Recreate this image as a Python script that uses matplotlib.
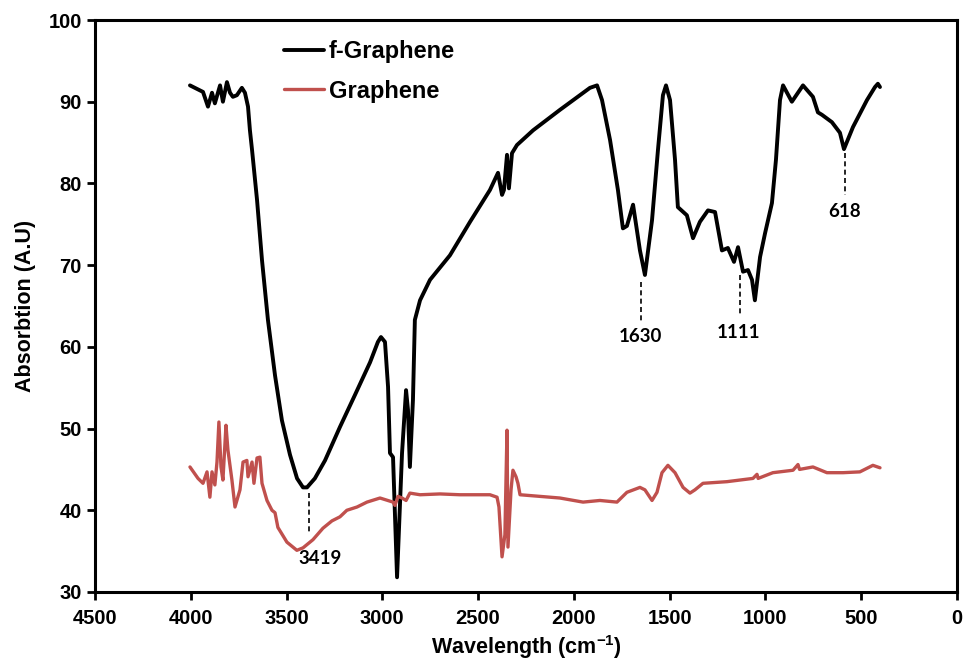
import numpy as np
import matplotlib.pyplot as plt

plt.rcParams['font.family'] = ['Liberation Sans', 'DejaVu Sans']
plt.rcParams['font.weight'] = 'bold'
plt.rcParams['mathtext.fontset'] = 'custom'
plt.rcParams['mathtext.rm'] = 'Liberation Sans:bold'
plt.rcParams['mathtext.default'] = 'rm'

# f-Graphene spectrum (wavenumber, absorption)
fg_x = [4004, 3936, 3910, 3889, 3874, 3847, 3832, 3811, 3795, 3780, 3759, 3733, 3717, 3701,
        3691, 3680, 3654, 3628, 3597, 3560, 3524, 3482, 3445, 3414, 3393, 3352, 3299, 3221,
        3143, 3064, 3023, 3007, 2986, 2970, 2960, 2944, 2923, 2897, 2876, 2866, 2856, 2840,
        2830, 2803, 2751, 2647, 2542, 2438, 2396, 2375, 2365, 2349, 2339, 2323, 2297, 2255,
        2213, 2073, 1916, 1879, 1853, 1811, 1770, 1744, 1723, 1691, 1655, 1629, 1592, 1561,
        1535, 1519, 1498, 1472, 1457, 1410, 1378, 1342, 1300, 1263, 1227, 1196, 1164, 1143,
        1117, 1091, 1070, 1055, 1028, 1002, 966, 945, 924, 908, 862, 804, 752, 726, 705, 653,
        611, 590, 543, 470, 428, 413, 402]
fg_y = [92.0, 91.2, 89.4, 91.1, 89.8, 92.0, 90.0, 92.4, 91.1, 90.6, 90.8, 91.7, 91.1, 89.4,
        86.5, 84.1, 78.0, 70.6, 63.3, 56.5, 51.0, 46.8, 43.9, 42.8, 42.8, 43.9, 46.1, 50.2,
        54.1, 58.1, 60.6, 61.2, 60.6, 55.1, 47.0, 46.5, 31.8, 47.0, 54.7, 52.3, 45.3, 53.5,
        63.3, 65.7, 68.2, 71.2, 75.3, 79.2, 81.3, 78.6, 79.2, 83.5, 79.4, 83.7, 84.7, 85.6,
        86.5, 89.0, 91.7, 92.0, 90.2, 85.3, 79.2, 74.5, 74.8, 77.4, 71.8, 68.8, 75.5, 84.1,
        90.8, 92.0, 90.2, 82.9, 77.1, 76.1, 73.3, 75.3, 76.7, 76.5, 71.8, 72.1, 70.4, 72.2,
        69.2, 69.4, 68.2, 65.7, 71.0, 73.9, 77.6, 82.9, 90.2, 92.0, 90.0, 92.0, 90.6, 88.7,
        88.4, 87.5, 86.2, 84.2, 86.9, 90.2, 91.8, 92.2, 91.8]

# Graphene spectrum
g_x = [4004, 3962, 3936, 3915, 3900, 3889, 3874, 3863, 3853, 3842, 3832, 3816, 3806, 3785,
       3769, 3743, 3727, 3707, 3701, 3680, 3670, 3654, 3639, 3628, 3602, 3576, 3560, 3545,
       3498, 3446, 3414, 3362, 3310, 3263, 3221, 3185, 3132, 3080, 3012, 2944, 2934, 2918,
       2897, 2876, 2856, 2803, 2699, 2595, 2438, 2401, 2391, 2375, 2360, 2349, 2344, 2328,
       2318, 2302, 2292, 2281, 2177, 2073, 1952, 1864, 1775, 1723, 1655, 1629, 1592, 1566,
       1540, 1509, 1472, 1430, 1394, 1368, 1326, 1201, 1065, 1044, 1038, 961, 856, 830, 822,
       752, 679, 595, 507, 439, 402]
g_y = [45.3, 43.9, 43.3, 44.7, 41.6, 44.7, 43.1, 45.9, 50.8, 45.3, 43.7, 50.4, 47.4, 43.7,
       40.4, 42.5, 45.9, 46.1, 44.1, 45.9, 43.3, 46.4, 46.5, 43.3, 41.2, 40.0, 39.7, 37.9,
       36.1, 35.1, 35.4, 36.4, 37.8, 38.7, 39.2, 40.0, 40.4, 41.0, 41.5, 41.0, 40.6, 41.7,
       41.5, 41.2, 42.1, 41.9, 42.0, 41.9, 41.9, 41.6, 40.4, 34.3, 37.0, 49.8, 35.5, 42.5,
       44.9, 44.1, 43.3, 41.9, 41.7, 41.5, 41.0, 41.2, 41.0, 42.2, 42.8, 42.5, 41.2, 42.2,
       44.6, 45.5, 44.6, 42.8, 42.1, 42.5, 43.3, 43.5, 43.9, 44.4, 43.9, 44.6, 44.9, 45.6,
       45.0, 45.3, 44.6, 44.6, 44.7, 45.5, 45.2]

# peak annotations: label, dashed line x, line top, line bottom, text position
peak_labels = ['3419', '1630', '1111', '618']
peak_x = [3383, 1650, 1133, 585]
peak_top = [42.1, 67.9, 68.8, 83.7]
peak_bottom = [37.2, 63.0, 63.9, 78.6]
label_x = [3325, 1655, 1143, 585]
label_y = [34.1, 61.3, 61.8, 76.6]

fig = plt.figure(figsize=(9.65, 6.65), dpi=100)
ax = fig.add_axes([0.0984, 0.1098, 0.8933, 0.8601])

ax.plot(fg_x, fg_y, color='black', lw=2.8, label='f-Graphene',
        solid_joinstyle='round', solid_capstyle='round')
ax.plot(g_x, g_y, color='#C0504D', lw=2.4, label='Graphene',
        solid_joinstyle='round', solid_capstyle='round')

for lab, px, yt, yb, tx, ty in zip(peak_labels, peak_x, peak_top, peak_bottom, label_x, label_y):
    ax.plot([px, px], [yt, yb], color='black', lw=1.2, ls=(0, (3, 2)))
    ax.text(tx, ty, lab, ha='center', va='center', fontsize=13.5,
            family=['Lato', 'DejaVu Sans'], fontweight='bold')

ax.set_xlim(4500, 0)
ax.set_ylim(30, 100)
ax.set_xticks(np.arange(4500, -1, -500))
ax.set_yticks(np.arange(30, 101, 10))
ax.tick_params(axis='both', labelsize=14.5, width=2, length=6, direction='out')
ax.tick_params(axis='x', pad=6)
for s in ax.spines.values():
    s.set_linewidth(2.2)

ax.set_xlabel('Wavelength (cm$^{-1}$)', fontsize=15.5, fontweight='bold', labelpad=4)
ax.set_ylabel('Absorbtion (A.U)', fontsize=15.5, fontweight='bold', labelpad=9)

leg = ax.legend(loc='upper left', bbox_to_anchor=(0.219, 0.965), frameon=False,
                fontsize=17, handlelength=1.7, handletextpad=0.2, labelspacing=0.7,
                borderpad=0, borderaxespad=0)
for t in leg.get_texts():
    t.set_fontweight('bold')

fig.savefig('out.png', dpi=100)
